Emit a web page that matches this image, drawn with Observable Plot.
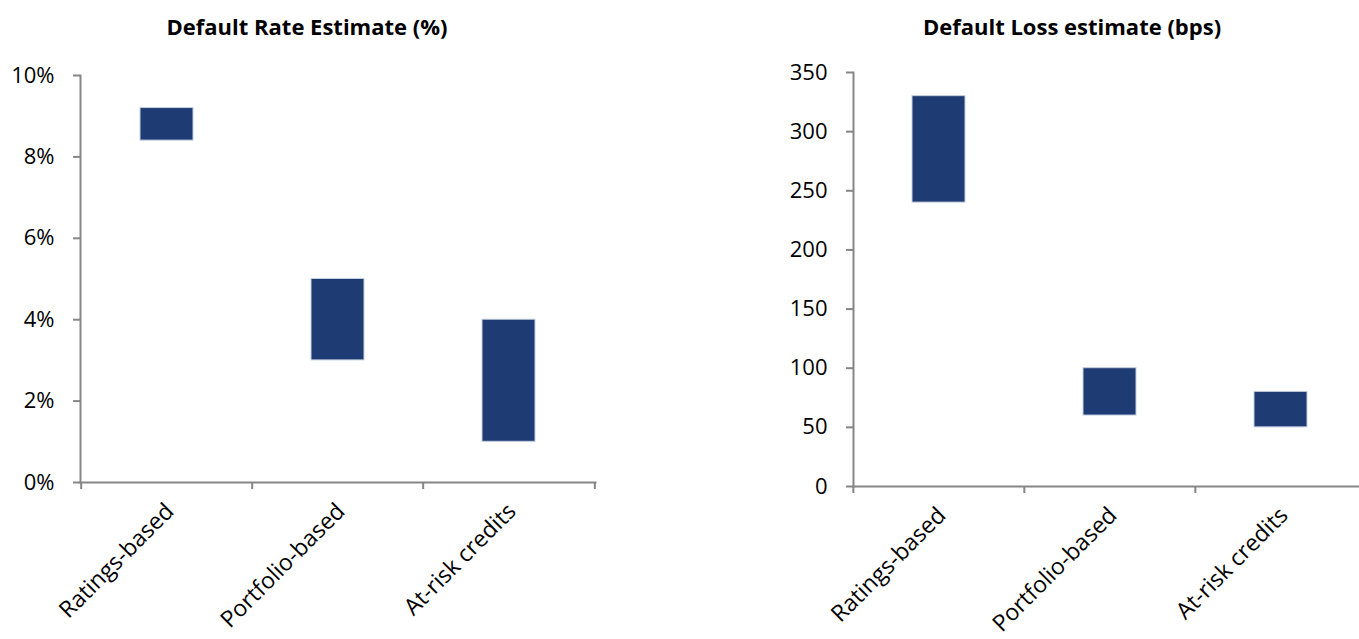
<!DOCTYPE html>
<html><head><meta charset="utf-8">
<script src="https://cdn.jsdelivr.net/npm/d3@7"></script>
<script src="https://cdn.jsdelivr.net/npm/@observablehq/plot@0.6"></script>
<style>
body{margin:0;background:#fff;overflow:hidden;width:1359px;height:639px;position:relative;font-family:"Open Sans",sans-serif}
.title{position:absolute;top:11px;font-weight:bold;font-size:22px;line-height:30px;color:#000;white-space:nowrap;transform:translateX(-50%)}
.chart{position:absolute;top:0}
.chart svg{max-width:none !important}
</style></head><body>
<div class="title" style="left:307px">Default Rate Estimate (%)</div>
<div class="title" style="left:1072px">Default Loss estimate (bps)</div>
<div id="c1" class="chart" style="left:0px;width:680px"></div>
<div id="c2" class="chart" style="left:680px;width:700px"></div>
<script>
const categories = ["Ratings-based", "Portfolio-based", "At-risk credits"];
const rateLow = [8.4, 3, 1];
const rateHigh = [9.2, 5, 4];
const lossLow = [240, 60, 50];
const lossHigh = [330, 100, 80];
const rateTicks = [0, 2, 4, 6, 8, 10];
const lossTicks = [0, 50, 100, 150, 200, 250, 300, 350];

function makeChart({lows, highs, yDomain, ticks, fmt, width, marginLeft, marginRight, marginTop, marginBottom}) {
  const data = categories.map((c, i) => ({cat: c, low: lows[i], high: highs[i]}));
  const step = (width - marginLeft - marginRight) / categories.length;
  const axisColor = "#868686";
  return Plot.plot({
    width, height: 639, marginLeft, marginRight, marginTop, marginBottom,
    style: {fontFamily: "'Open Sans', sans-serif", fontSize: "22px", color: "#000", background: "transparent", overflow: "visible", maxWidth: "none"},
    x: {domain: categories, paddingInner: 0.69, paddingOuter: 0.345, axis: null},
    y: {domain: yDomain, axis: null},
    marks: [
      Plot.barY(data, {x: "cat", y1: "low", y2: "high", fill: "#1e3b73", stroke: "#c5cfe2", strokeWidth: 1}),
      Plot.frame({anchor: "left", stroke: axisColor, strokeWidth: 2}),
      Plot.frame({anchor: "bottom", stroke: axisColor, strokeWidth: 2}),
      Plot.axisY(ticks, {tickSize: 7, tickPadding: 19, tickFormat: fmt, stroke: axisColor, strokeWidth: 2, fill: "#000", label: null}),
      Plot.axisX(categories, {tickSize: 7, tickFormat: () => "", dx: -step / 2, stroke: axisColor, strokeWidth: 2, label: null}),
      Plot.axisX([categories[categories.length - 1]], {tickSize: 7, tickFormat: () => "", dx: step / 2, stroke: axisColor, strokeWidth: 2, label: null}),
      Plot.axisX(categories, {tickSize: 0, tickPadding: 25, tickRotate: -45, dx: 3, fill: "#000", fontSize: 23, label: null})
    ]
  });
}

document.getElementById("c1").appendChild(makeChart({
  lows: rateLow, highs: rateHigh, yDomain: [0, 10], ticks: rateTicks, fmt: d => d + "%",
  width: 680, marginLeft: 80, marginRight: 85, marginTop: 75, marginBottom: 157
}));
document.getElementById("c2").appendChild(makeChart({
  lows: lossLow, highs: lossHigh, yDomain: [0, 350], ticks: lossTicks, fmt: d => String(d),
  width: 700, marginLeft: 173, marginRight: 13, marginTop: 72, marginBottom: 153
}));
</script>
</body></html>
